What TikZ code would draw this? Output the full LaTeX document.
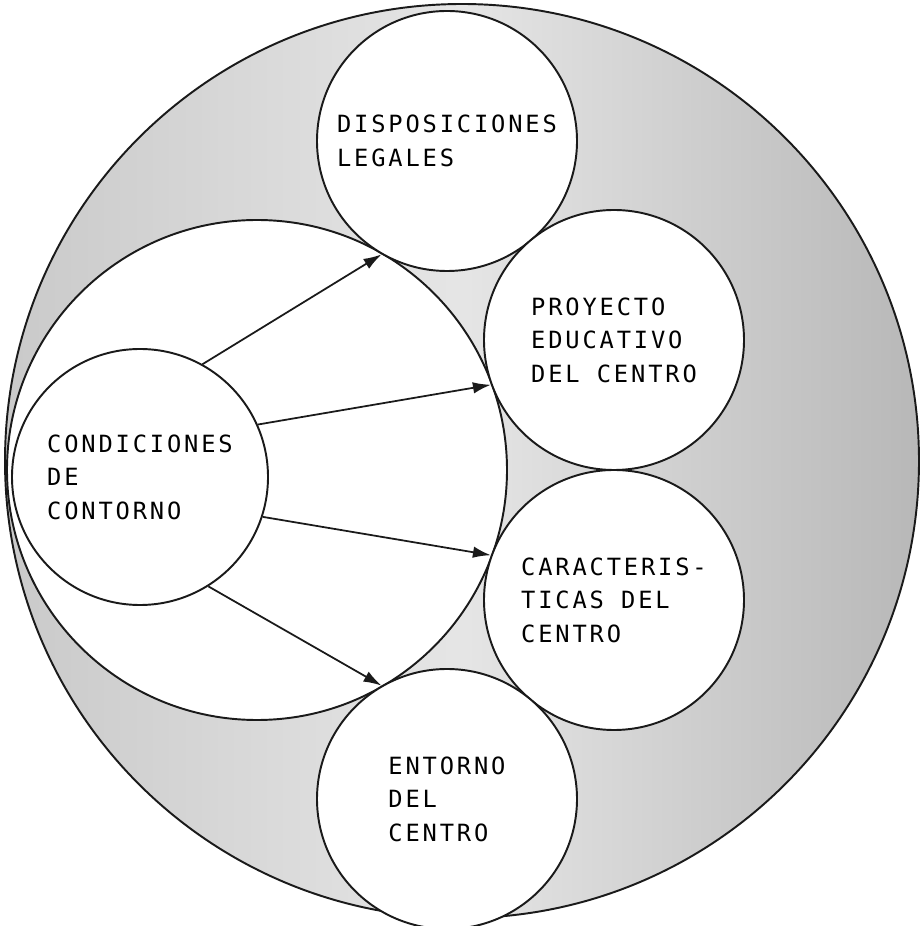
\documentclass[tikz,border=0pt]{standalone}
\usepackage{fontspec}
\newfontfamily\topicfont[LetterSpace=12]{DejaVu Sans Mono}
\usetikzlibrary{arrows.meta}
\definecolor{fig-ink}{HTML}{1A1A1A}

\begin{document}
\begin{tikzpicture}[
    font=\topicfont\fontsize{13.5}{19}\selectfont,
    >={Latex[length=3.6mm,width=2.3mm]},
    ring/.style={circle, draw=fig-ink, line width=1.1pt, inner sep=0pt},
    topic/.style={ring, fill=white, minimum size=5.2cm, align=left},
    flow/.style={->, draw=fig-ink, line width=1pt},
]
\path[use as bounding box] (0,0) rectangle (18.44,18.52);

\node[ring, minimum size=18.28cm, left color=gray!42, right color=gray!56, middle color=gray!20] (outer) at (9.24,9.30) {};
\node[ring, fill=white, minimum size=10cm] (field) at (5.14,9.12) {};

\node[topic, minimum size=5.12cm] (cond) at (2.80,8.98) {CONDICIONES\\DE\\CONTORNO};
\node[topic] (disp) at (8.94,15.70) {DISPOSICIONES\\LEGALES};
\node[topic] (proy) at (12.28,11.72) {PROYECTO\\EDUCATIVO\\DEL CENTRO};
\node[topic] (carac) at (12.28,6.52) {CARACTERIS-\\TICAS DEL\\CENTRO};
\node[topic] (ent) at (8.94,2.54) {ENTORNO\\DEL\\CENTRO};

\draw[flow] (cond.61) -- (disp.240);
\draw[flow] (cond.24) -- (proy.200);
\draw[flow] (cond.-18) -- (carac.160);
\draw[flow] (cond.-58) -- (ent.120);
\end{tikzpicture}
\end{document}
